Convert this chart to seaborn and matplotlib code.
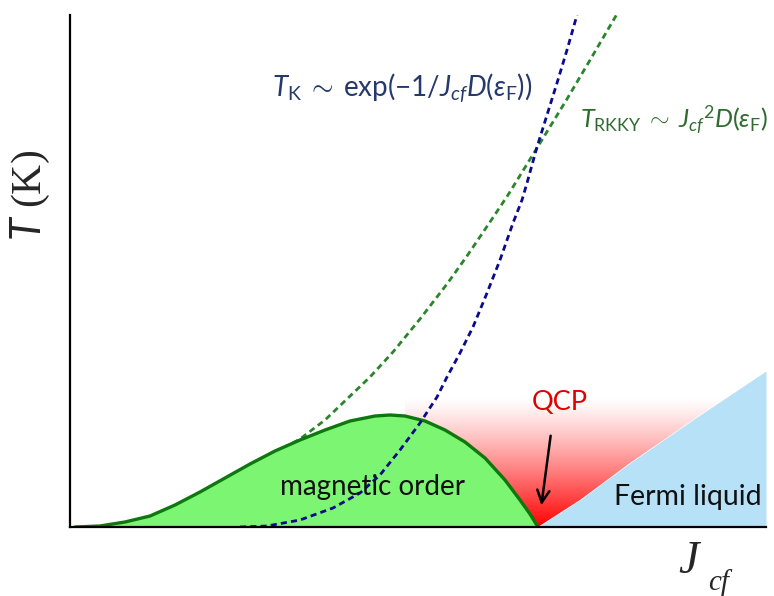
import numpy as np
import matplotlib
matplotlib.use("Agg")
import matplotlib.pyplot as plt
from matplotlib.patches import Polygon
import seaborn as sns

# ---- data (schematic units) ----
dome_x = [5, 30, 55, 80, 105, 130, 155, 180, 205, 230, 255, 280, 305, 320, 335, 355, 375, 395, 415, 435, 450, 460, 468]
dome_y = [0, 1, 5, 11, 22, 35, 49, 63, 76, 87, 97, 106, 111, 112, 111, 106, 97, 85, 69, 47, 27, 13, 0]

tk_x = [170, 197, 230, 263, 290, 310, 330, 350, 367, 377, 390, 403, 417, 430, 443, 452, 457, 467, 477, 487, 497, 507]
tk_y = [0, 1, 7, 19, 34, 52, 77, 104, 130, 150, 174, 200, 234, 267, 304, 327, 344, 380, 412, 444, 477, 512]

rkky_x = [195, 210, 230, 255, 277, 300, 323, 350, 377, 397, 420, 438, 467, 497, 523, 547]
rkky_y = [70, 77, 88, 107, 128, 150, 175, 208, 243, 271, 305, 332, 379, 428, 472, 513]

fl_x = [468, 510, 560, 627, 696]
fl_y = [0, 27, 64, 110, 156]

qcp_fade_height = 130

sns.set_theme(style="white")
plt.rcParams["mathtext.fontset"] = "custom"
plt.rcParams["mathtext.rm"] = "Lato"
plt.rcParams["mathtext.it"] = "Lato:italic"
plt.rcParams["mathtext.bf"] = "Lato:bold"

fig = plt.figure(figsize=(7.74, 5.96), dpi=100)
ax = fig.add_axes([70 / 774, 69 / 596, 696 / 774, 512 / 596])
ax.set_xlim(0, 696)
ax.set_ylim(0, 512)

# red QCP gradient, clipped to region between dome and Fermi-liquid line
grad_h = np.linspace(0, 200, 300)
alpha = np.clip(1 - grad_h / qcp_fade_height, 0, 1) ** 1.2
img = np.zeros((len(grad_h), 2, 4))
img[..., 0] = 1.0
img[..., 1] = 0.0
img[..., 2] = 0.0
img[..., 3] = alpha[:, None]
im = ax.imshow(img, extent=[300, 696, 0, 200], origin="lower", aspect="auto",
               zorder=1, interpolation="bilinear")
verts = [(x, y) for x, y in zip(dome_x, dome_y) if x >= 335]
verts += [(x, y) for x, y in zip(fl_x, fl_y)][1:]
verts += [(696, 200), (335, 200)]
clip = Polygon(verts, closed=True, transform=ax.transData, facecolor="none", edgecolor="none")
ax.add_patch(clip)
im.set_clip_path(clip)

# Fermi liquid wedge
ax.fill_between(fl_x, 0, fl_y, color="#B7E1F7", lw=0, zorder=2)

# RKKY dashed (under the dome)
sns.lineplot(x=rkky_x, y=rkky_y, ax=ax, color="#2A862A", lw=2.0,
             linestyle=(0, (2.2, 1.5)), zorder=2.5, sort=False)

# magnetic order dome
ax.fill_between(dome_x, 0, dome_y, color="#7CF672", lw=0, zorder=3)
sns.lineplot(x=dome_x, y=dome_y, ax=ax, color="#0E780E", lw=2.4, zorder=4, sort=False)

# Kondo dashed
sns.lineplot(x=tk_x, y=tk_y, ax=ax, color="#0A0A8C", lw=2.0,
             linestyle=(0, (2.2, 1.5)), zorder=5, sort=False)

# spines
for s in ["top", "right"]:
    ax.spines[s].set_visible(False)
for s in ["left", "bottom"]:
    ax.spines[s].set_color("black")
    ax.spines[s].set_linewidth(1.6)
    ax.spines[s].set_zorder(6)
ax.set_xticks([])
ax.set_yticks([])
ax.set_xlabel("")
ax.set_ylabel("")

# labels
ax.text(303, 40, "magnetic order", fontsize=20, family="Lato", color="#111111",
        ha="center", va="center", zorder=7)
ax.text(618, 30, "Fermi liquid", fontsize=20.5, family="Lato", color="#111111",
        ha="center", va="center", zorder=7)
ax.text(490, 125, "QCP", fontsize=19.5, family="Lato", color="#E00000",
        ha="center", va="center", zorder=7)
ax.annotate("", xy=(471, 19), xytext=(481, 94),
            arrowprops=dict(arrowstyle="->", lw=1.8, color="black", mutation_scale=22),
            zorder=7)

ax.text(332, 439, r"$T_{\mathrm{K}}\;\sim\;\mathrm{exp}(-1/J_{cf}D(\varepsilon_{\mathrm{F}}))$",
        fontsize=20, color="#253A6A", ha="center", va="center", zorder=7)
ax.text(604, 407, r"$T_{\mathrm{RKKY}}\;\sim\;J_{cf}{}^{2}D(\varepsilon_{\mathrm{F}})$",
        fontsize=18.2, color="#2F6B2F", ha="center", va="center", zorder=7, clip_on=False)

fig.text(30 / 774, 1 - 195 / 596, r"$T$ (K)", rotation=90, fontsize=30,
         family="Liberation Serif", ha="center", va="center")
plt.rcParams["mathtext.fontset"] = "stix"
fig.text(688 / 774, 1 - 562 / 596, "J", fontsize=33, family="Liberation Serif",
         style="italic", ha="center", va="center")
fig.text(719 / 774, 1 - 583 / 596, "cf", fontsize=21, family="Liberation Serif",
         style="italic", ha="center", va="center")

fig.savefig("out.png", dpi=100)
